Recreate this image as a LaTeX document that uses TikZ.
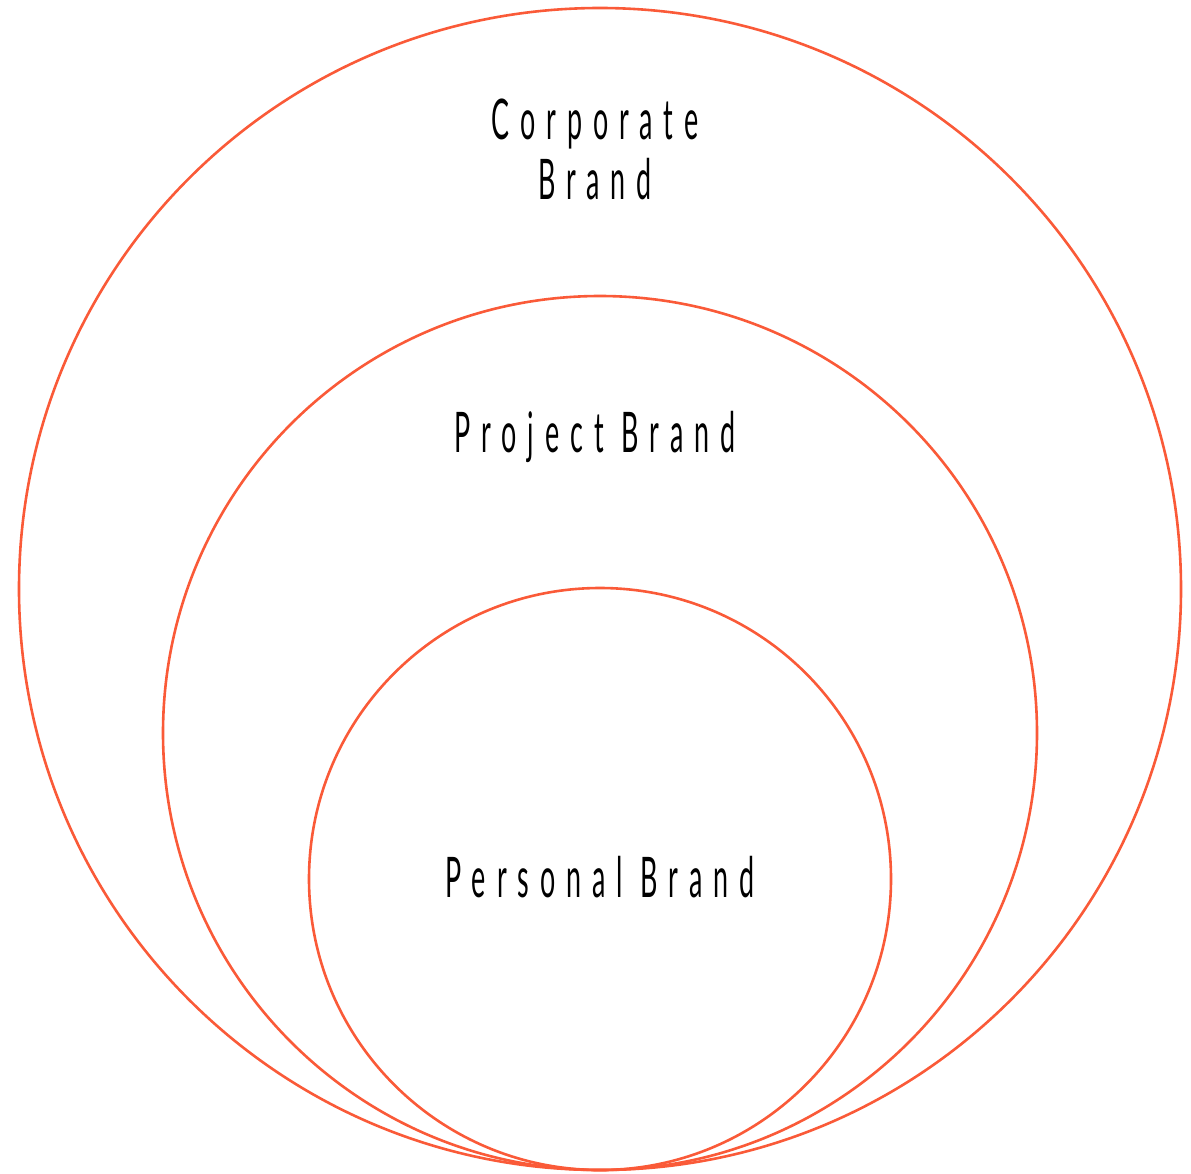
\documentclass[tikz,border=0pt]{standalone}
\usepackage{fontspec}
\setmainfont{Lato}[FakeStretch=0.48,LetterSpace=19.5]
\definecolor{ring}{HTML}{FA5A38}
\begin{document}
\begin{tikzpicture}[x=1pt,y=-1pt,
  ring/.style={draw=ring,line width=2.6pt},
  lbl/.style={inner sep=0pt,font=\fontsize{56}{60}\selectfont,text=black,align=center}]
\useasboundingbox (0,0) rectangle (1191,1173);
\node[ring,circle,minimum size=1162pt,inner sep=0pt] (outer) at (600,589) {};
\node[ring,circle,minimum size=874pt,inner sep=0pt] (middle) at (600,733) {};
\node[ring,circle,minimum size=582pt,inner sep=0pt] (inner) at (600,879) {};
\node[lbl,anchor=north] (corp) at (595,99) {Corporate\\Brand};
\node[lbl,anchor=base] (proj) at (595,452) {Project Brand};
\node[lbl,anchor=base] (pers) at (600,897) {Personal Brand};
\end{tikzpicture}
\end{document}
